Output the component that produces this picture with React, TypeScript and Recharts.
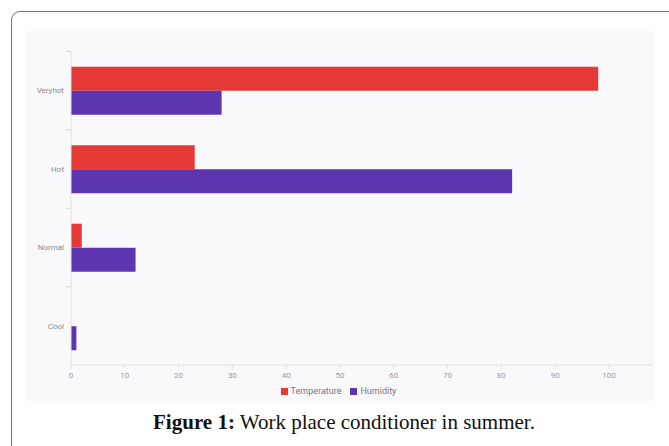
import React from "react"
import { Bar, BarChart, Legend, XAxis, YAxis } from "recharts"

const categories = ["Veryhot", "Hot", "Normal", "Cool"]
const temperature = [98, 23, 2, 0]
const humidity = [28, 82, 12, 1]
const xTicks = [0, 10, 20, 30, 40, 50, 60, 70, 80, 90, 100]
const seriesNames = ["Temperature", "Humidity"]
const seriesColors = ["#e53935", "#5e35b1"]

const data = categories.map((name, i) => ({
  name,
  Temperature: temperature[i],
  Humidity: humidity[i],
}))

const BAND_HALF = 39

const CategoryTick = (props: any) => {
  const { x, y, payload } = props
  return (
    <g>
      <text
        x={x - 7}
        y={y}
        dy={3}
        textAnchor={"end"}
        fill={"#8a8a8a"}
        fontSize={8}
        fontFamily={"Roboto"}
      >
        {payload.value}
      </text>
      <line
        x1={x - 5}
        x2={x}
        y1={y - BAND_HALF}
        y2={y - BAND_HALF}
        stroke={"#d9d9d9"}
      />
    </g>
  )
}

// keep the legend in series order
const LegendContent = () => (
  <div
    style={{
      display: "flex",
      justifyContent: "center",
      gap: 9,
      fontFamily: "Roboto",
      fontSize: 9,
      lineHeight: "12px",
      color: "#777",
    }}
  >
    {seriesNames.map((name, i) => (
      <span key={name} style={{ display: "flex", alignItems: "center", gap: 3 }}>
        <span style={{ width: 7, height: 7, background: seriesColors[i], display: "inline-block" }} />
        {name}
      </span>
    ))}
  </div>
)

export default function App() {
  return (
    <div
      style={{
        position: "absolute",
        left: 0,
        top: 0,
        width: 669,
        height: 446,
        overflow: "hidden",
        background: "#fff",
      }}
    >
      <div
        style={{
          position: "absolute",
          left: 11,
          top: 11,
          width: 700,
          height: 480,
          border: "1.5px solid #6d6da6",
          borderRadius: 9,
        }}
      />
      <div
        style={{
          position: "absolute",
          left: 25,
          top: 31,
          width: 630,
          height: 370,
          background: "#f9f9fc",
        }}
      >
        <BarChart
          width={630}
          height={370}
          data={data}
          layout={"vertical"}
          margin={{ top: 20, right: 3, left: 0, bottom: 4 }}
          barCategoryGap={"20%"}
          barGap={0}
        >
          <XAxis
            type={"number"}
            domain={[0, 108]}
            ticks={xTicks}
            allowDataOverflow
            stroke={"#e2e2e2"}
            tickSize={4}
            tickMargin={3}
            tick={{ fill: "#9a9a9a", fontSize: 8, fontFamily: "Roboto" }}
            height={20}
          />
          <YAxis
            type={"category"}
            dataKey={"name"}
            width={46}
            stroke={"#e2e2e2"}
            tickLine={false}
            tickSize={0}
            tickMargin={0}
            tick={<CategoryTick />}
          />
          <Legend verticalAlign={"bottom"} height={12} content={<LegendContent />} />
          <Bar dataKey={"Temperature"} fill={seriesColors[0]} isAnimationActive={false} />
          <Bar dataKey={"Humidity"} fill={seriesColors[1]} isAnimationActive={false} />
        </BarChart>
      </div>
      <div
        style={{
          position: "absolute",
          left: 0,
          top: 410,
          width: 688,
          textAlign: "center",
          fontFamily: "'Liberation Serif', 'Times New Roman', serif",
          fontSize: 21,
          color: "#111",
        }}
      >
        <b>Figure 1:</b> Work place conditioner in summer.
      </div>
    </div>
  )
}
